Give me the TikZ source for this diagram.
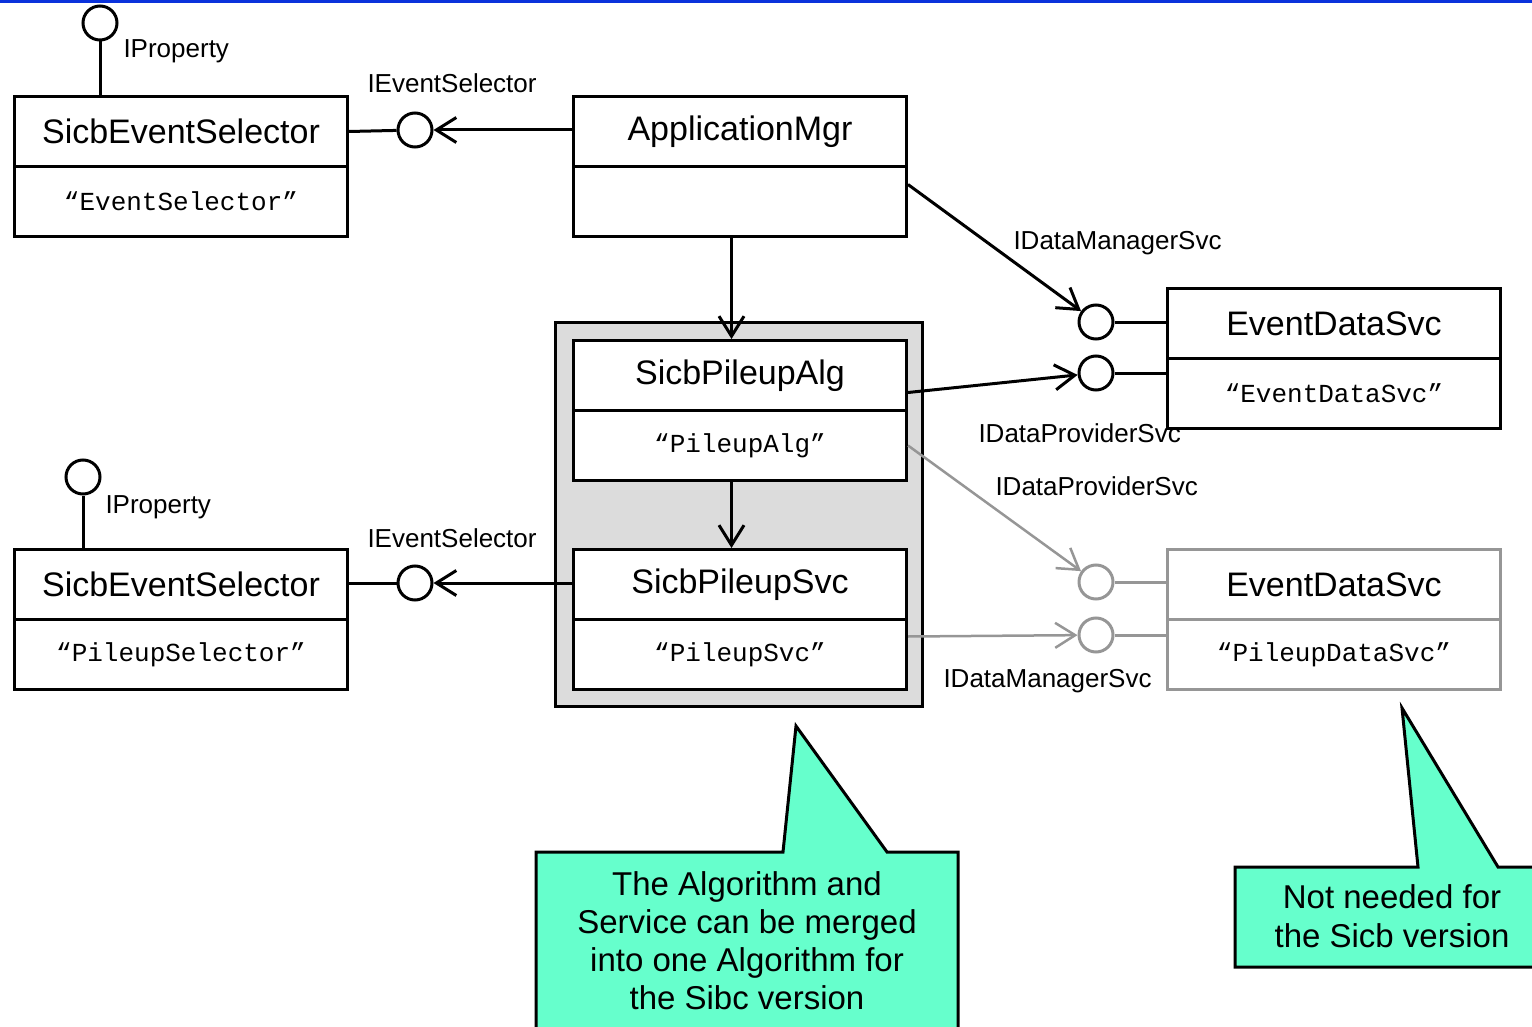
\documentclass[tikz,border=0pt]{standalone}
\usepackage{fontspec}
\setmainfont{Liberation Sans}
\setmonofont{Liberation Mono}
\usetikzlibrary{arrows.meta}
\definecolor{topblue}{RGB}{10,50,220}
\definecolor{calloutfill}{RGB}{102,255,204}
\definecolor{grayline}{RGB}{150,150,150}
\definecolor{groupfill}{RGB}{220,220,220}
\begin{document}
\begin{tikzpicture}[x=1pt,y=-1pt,line width=3pt,
  titlebox/.style={draw,rectangle,minimum width=333pt,minimum height=70pt,inner sep=0pt,anchor=north west,font=\fontsize{34}{40}\selectfont},
  bodybox/.style={draw,rectangle,minimum width=333pt,minimum height=70pt,inner sep=0pt,anchor=north west,font=\ttfamily\fontsize{26}{30}\selectfont},
  lbl/.style={inner sep=0pt,anchor=base west,font=\fontsize{26}{30}\selectfont},
  iface/.style={draw,circle,minimum size=34pt,inner sep=0pt},
  uses/.style={-{Straight Barb[length=20pt,width=25pt]}},
  calltext/.style={inner sep=0pt,anchor=base,font=\fontsize{33}{38}\selectfont},
  faded/.style={draw=grayline}
]
\useasboundingbox (0,0) rectangle (1532,1027);
\clip (0,0) rectangle (1532,1027);
\fill[topblue] (0,0) rectangle (1532,3);

% group container
\node[draw,fill=groupfill,rectangle,minimum width=367pt,minimum height=384pt,inner sep=0pt,anchor=north west] (grp) at (554,321) {};

% boxes
\node[titlebox] (sel1T) at (13,95) {SicbEventSelector};
\node[bodybox] (sel1B) at (13,165) {“EventSelector”};
\node[titlebox] (appT) at (572,95) {ApplicationMgr};
\node[bodybox] (appB) at (572,165) {};
\node[titlebox,fill=white] (algT) at (572,339) {SicbPileupAlg};
\node[bodybox,fill=white] (algB) at (572,409) {“PileupAlg”};
\node[titlebox,fill=white] (svcT) at (572,548) {SicbPileupSvc};
\node[bodybox,fill=white] (svcB) at (572,618) {“PileupSvc”};
\node[titlebox] (sel2T) at (13,548) {SicbEventSelector};
\node[bodybox] (sel2B) at (13,618) {“PileupSelector”};
\node[titlebox] (edsT) at (1166,287) {EventDataSvc};
\node[bodybox] (edsB) at (1166,357) {“EventDataSvc”};
\node[titlebox,faded] (pdsT) at (1166,548) {EventDataSvc};
\node[bodybox,faded] (pdsB) at (1166,618) {“PileupDataSvc”};

% interfaces
\node[iface] (ip1) at (100,23) {};
\node[iface] (ip2) at (83,477) {};
\node[iface] (ies1) at (415,130) {};
\node[iface] (ies2) at (415,583) {};
\node[iface] (edm) at (1096,322) {};
\node[iface] (edp) at (1096,373) {};
\node[iface,faded] (pdp) at (1096,582) {};
\node[iface,faded] (pdm) at (1096,635) {};

% lollipop sticks
\draw (ip1) -- (ip1 |- sel1T.north);
\draw (ip2) -- (ip2 |- sel2T.north);
\draw (sel1T.east) -- (ies1);
\draw (sel2T.east |- ies2) -- (ies2);
\draw (edm) -- (edm -| edsT.west);
\draw (edp) -- (edp -| edsB.west);
\draw[grayline] (pdp) -- (pdp -| pdsT.west);
\draw[grayline] (pdm) -- (pdm -| pdsB.west);

% usage arrows
\draw[uses] (appT.west |- ies1) -- (ies1);
\draw[uses] (svcT.west |- ies2) -- (ies2);
\draw[uses] ([xshift=-8.5pt]appB.south) -- ([xshift=-8.5pt]algT.north);
\draw[uses] ([xshift=-8.5pt]algB.south) -- ([xshift=-8.5pt]svcT.north);
\draw[uses] ([yshift=17pt]appB.east) -- (edm);
\draw[uses] ([yshift=-17pt]algT.east) -- (edp);
\draw[uses,grayline,line width=2.5pt] (algB.east) -- (pdp);
\draw[uses,grayline,line width=2.5pt] ([yshift=18pt]svcB.east) -- (pdm);

% labels
\node[lbl] (lip1) at (122,58) {IProperty};
\node[lbl] (lip2) at (104,513) {IProperty};
\node[lbl] (lies1) at (366,93) {IEventSelector};
\node[lbl] (lies2) at (366,547) {IEventSelector};
\node[lbl] (ledm) at (1012,250) {IDataManagerSvc};
\node[lbl] (ledp) at (977,442) {IDataProviderSvc};
\node[lbl] (lpdp) at (994,495) {IDataProviderSvc};
\node[lbl] (lpdm) at (942,687) {IDataManagerSvc};

% callouts
\draw[fill=calloutfill] (536,1040) -- (536,852) -- (783,852) -- (796,726) -- (887,852) -- (958,852) -- (958,1040);
\node[calltext] (c1a) at (747,895) {The Algorithm and};
\node[calltext] (c1b) at (747,933) {Service can be merged};
\node[calltext] (c1c) at (747,971) {into one Algorithm for};
\node[calltext] (c1d) at (747,1009) {the Sibc version};

\draw[fill=calloutfill] (1545,967) -- (1235,967) -- (1235,867) -- (1418,867) -- (1402,708) -- (1498,867) -- (1545,867);
\node[calltext] (c2a) at (1392,908) {Not needed for};
\node[calltext] (c2b) at (1392,947) {the Sicb version};
\end{tikzpicture}
\end{document}
